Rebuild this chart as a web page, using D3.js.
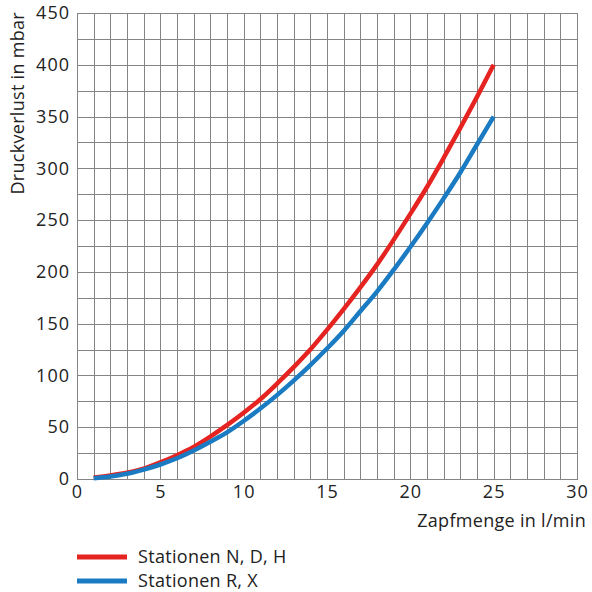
<!DOCTYPE html>
<html><head><meta charset="utf-8">
<script src="https://cdn.jsdelivr.net/npm/d3@7"></script>
<style>body{margin:0;background:#fff}svg{display:block}text{font-family:"Open Sans","DejaVu Sans",sans-serif;fill:#222}</style>
</head><body>
<script>
const flow = [1,2,3,4,5,6,7,8,9,10,11,12,13,14,15,16,17,18,19,20,21,22,23,24,25];
const seriesNDH = [1.5,3.5,6,10,16,23,31,41,52,64,77,92,108,125,144,164,185,207,231,256,282,310,339,369,400];
const seriesRX  = [0.8,2.5,5,9,14,20,27.5,36,45,56,68,81,95,110,126,143,162,181,202,224,247,271,296,323,350];
const seriesNames = ["Stationen N, D, H","Stationen R, X"];
const seriesColors = ["#e52421","#1b7bc2"];
const xTicks = [0,5,10,15,20,25,30];
const yTicks = [0,50,100,150,200,250,300,350,400,450];

const W=592,H=592;
const FF='"Open Sans","DejaVu Sans",sans-serif';
const svg=d3.select("body").append("svg").attr("width",W).attr("height",H);
const x=d3.scaleLinear().domain([0,30]).range([77,577]);
const y=d3.scaleLinear().domain([0,450]).range([479,13]);

const g=svg.append("g");
g.selectAll(".vg").data(d3.range(0,31)).join("line")
 .attr("x1",d=>Math.round(x(d))+0.5).attr("x2",d=>Math.round(x(d))+0.5).attr("y1",y(450)).attr("y2",y(0))
 .attr("stroke","#858585").attr("stroke-width",1);
g.selectAll(".hg").data(d3.range(0,451,25)).join("line")
 .attr("x1",x(0)).attr("x2",x(30)+1).attr("y1",d=>Math.round(y(d))+0.5).attr("y2",d=>Math.round(y(d))+0.5)
 .attr("stroke","#858585").attr("stroke-width",1);

const xa=svg.append("g").attr("transform",`translate(0,${y(0)})`)
 .call(d3.axisBottom(x).tickValues(xTicks).tickSize(0).tickPadding(6));
xa.select(".domain").remove();
xa.selectAll("text").attr("font-size",18).style("font-family",FF).style("letter-spacing","1px").attr("fill","#222");
const ya=svg.append("g").attr("transform",`translate(${x(0)},0)`)
 .call(d3.axisLeft(y).tickValues(yTicks).tickSize(0).tickPadding(7));
ya.select(".domain").remove();
ya.selectAll("text").attr("font-size",18).style("font-family",FF).style("letter-spacing","1px").attr("fill","#222");

const line=d3.line().x((d,i)=>x(flow[i])).y(d=>y(d)).curve(d3.curveMonotoneX);
[seriesNDH,seriesRX].forEach((s,i)=>{
  svg.append("path").datum(s).attr("d",line).attr("fill","none")
   .attr("stroke",seriesColors[i]).attr("stroke-width",4.5);
});

svg.append("text").attr("transform","translate(24,12) rotate(-90)").attr("text-anchor","end")
 .attr("font-size",18).style("letter-spacing","0.3px").text("Druckverlust in mbar");
svg.append("text").attr("x",586).attr("y",527).attr("text-anchor","end")
 .attr("font-size",18).style("letter-spacing","0.3px").text("Zapfmenge in l/min");

seriesNames.forEach((n,i)=>{
  const ly=557+i*24;
  svg.append("line").attr("x1",77).attr("x2",127).attr("y1",ly).attr("y2",ly)
   .attr("stroke",seriesColors[i]).attr("stroke-width",5);
  svg.append("text").attr("x",138).attr("y",ly).attr("dy","0.35em").attr("font-size",18)
   .style("letter-spacing","0.3px").text(n);
});
</script>
</body></html>
